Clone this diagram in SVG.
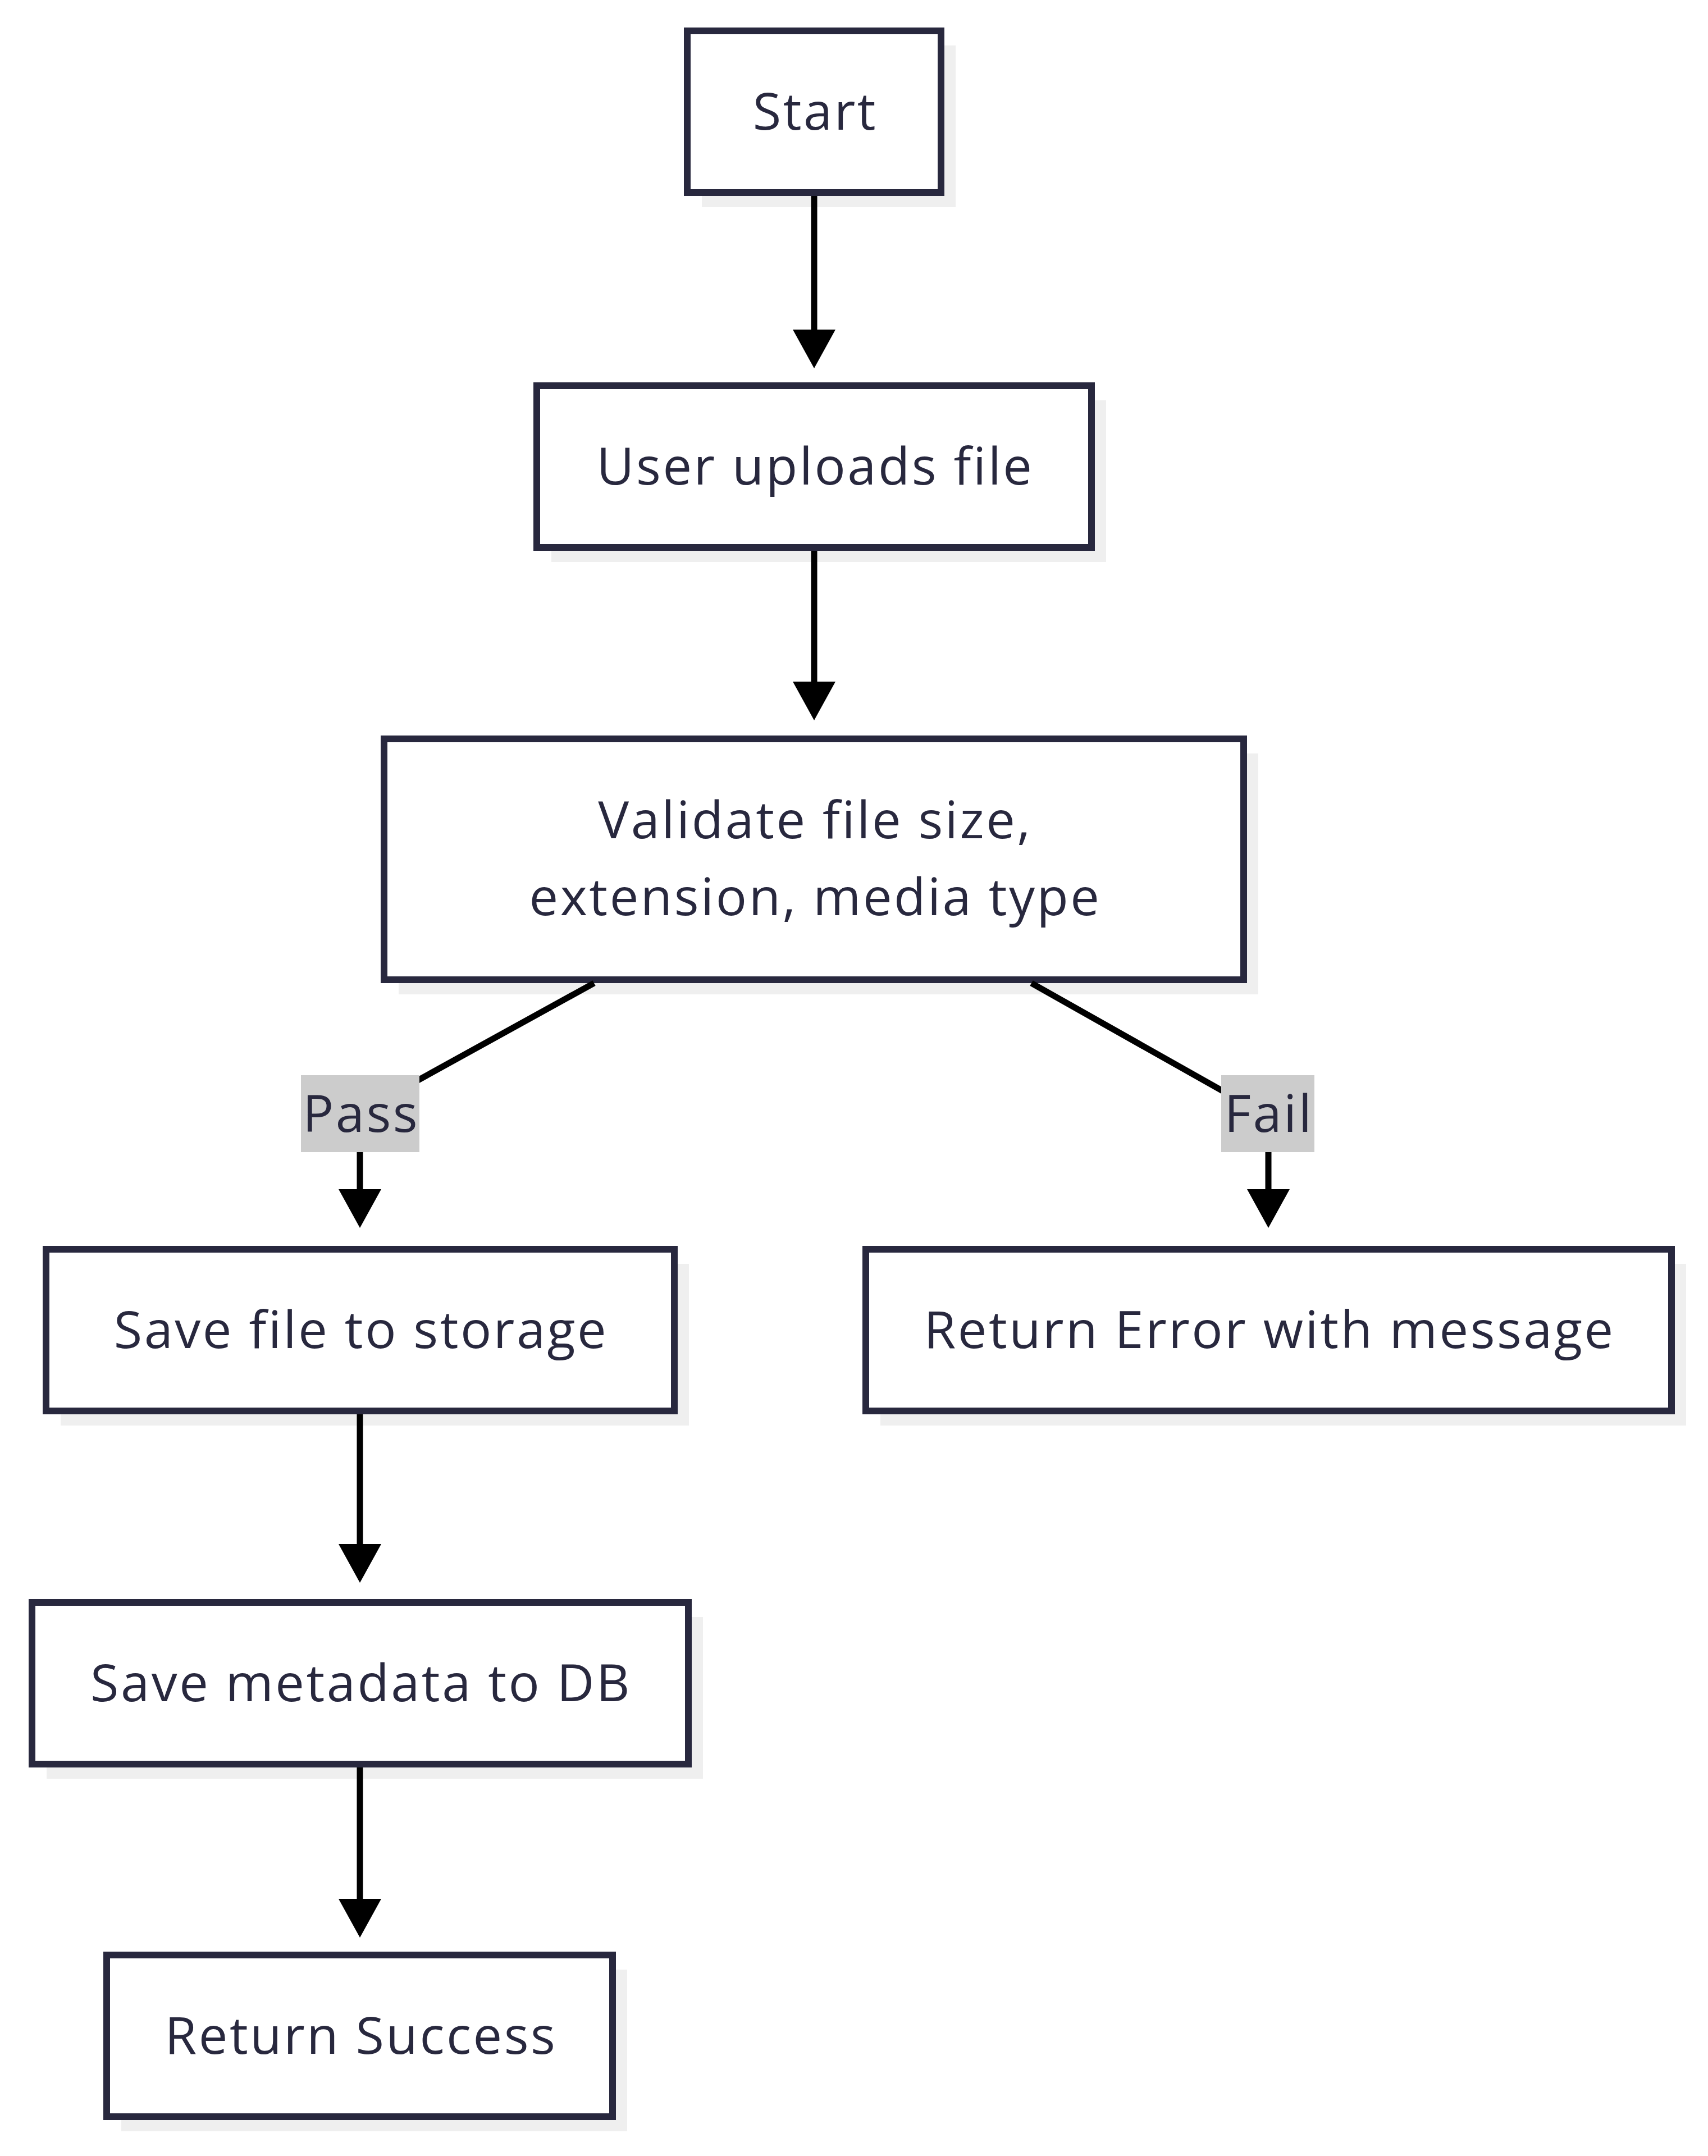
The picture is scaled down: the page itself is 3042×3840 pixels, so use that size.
<svg xmlns="http://www.w3.org/2000/svg" width="3042" height="3840" viewBox="0 0 3042 3840">
<style>
  .shadow { fill: #efefef; }
  .box { fill: #ffffff; stroke: #28283e; stroke-width: 12; }
  .lbl { font-family: "Open Sans", "Noto Sans", sans-serif; font-size: 92px; letter-spacing: 3.5px; fill: #28283e; text-anchor: middle; }
  .edge { fill: none; stroke: #000000; stroke-width: 11; }
  .elbl { fill: #cccccc; }
</style>
<defs>
  <marker id="arrow" viewBox="0 0 69 76" refX="0" refY="38" markerWidth="69" markerHeight="76" markerUnits="userSpaceOnUse" orient="auto">
    <path d="M0,0 L69,38 L0,76 z" fill="#000000"/>
  </marker>
</defs>
<rect width="3042" height="3840" fill="#ffffff"/>

<g id="start">
  <rect class="shadow" x="1250" y="81" width="452" height="288"/>
  <rect class="box" x="1224" y="55" width="452" height="288"/>
  <text class="lbl" x="1452" y="231">Start</text>
</g>
<g id="upload">
  <rect class="shadow" x="982" y="713" width="988" height="288"/>
  <rect class="box" x="956" y="687" width="988" height="288"/>
  <text class="lbl" x="1452" y="863">User uploads file</text>
</g>
<g id="validate">
  <rect class="shadow" x="710" y="1342" width="1531" height="429"/>
  <rect class="box" x="684" y="1316" width="1531" height="429"/>
  <text class="lbl" x="1452" y="1493">Validate file size,</text>
  <text class="lbl" x="1452" y="1630">extension, media type</text>
</g>
<g id="savefile">
  <rect class="shadow" x="108" y="2251" width="1119" height="288"/>
  <rect class="box" x="82" y="2225" width="1119" height="288"/>
  <text class="lbl" x="643" y="2401">Save file to storage</text>
</g>
<g id="error">
  <rect class="shadow" x="1568" y="2251" width="1435" height="288"/>
  <rect class="box" x="1542" y="2225" width="1435" height="288"/>
  <text class="lbl" x="2261" y="2401">Return Error with message</text>
</g>
<g id="savemeta">
  <rect class="shadow" x="83" y="2880" width="1169" height="288"/>
  <rect class="box" x="57" y="2854" width="1169" height="288"/>
  <text class="lbl" x="643" y="3030">Save metadata to DB</text>
</g>
<g id="success">
  <rect class="shadow" x="216" y="3508" width="901" height="288"/>
  <rect class="box" x="190" y="3482" width="901" height="288"/>
  <text class="lbl" x="643" y="3658">Return Success</text>
</g>

<g id="connectors">
  <path class="edge" d="M1450 349 V587" marker-end="url(#arrow)"/>
  <path class="edge" d="M1450 981 V1214" marker-end="url(#arrow)"/>
  <path class="edge" d="M1058 1751 L641 1981 V2118" marker-end="url(#arrow)"/>
  <path class="edge" d="M1837 1751 L2259 1989 V2118" marker-end="url(#arrow)"/>
  <path class="edge" d="M641 2519 V2750" marker-end="url(#arrow)"/>
  <path class="edge" d="M641 3148 V3382" marker-end="url(#arrow)"/>
  <g id="label-pass">
    <rect class="elbl" x="536" y="1915" width="211" height="137"/>
    <text class="lbl" x="643" y="2016">Pass</text>
  </g>
  <g id="label-fail">
    <rect class="elbl" x="2175" y="1915" width="166" height="137"/>
    <text class="lbl" x="2260" y="2016">Fail</text>
  </g>
</g>
</svg>
